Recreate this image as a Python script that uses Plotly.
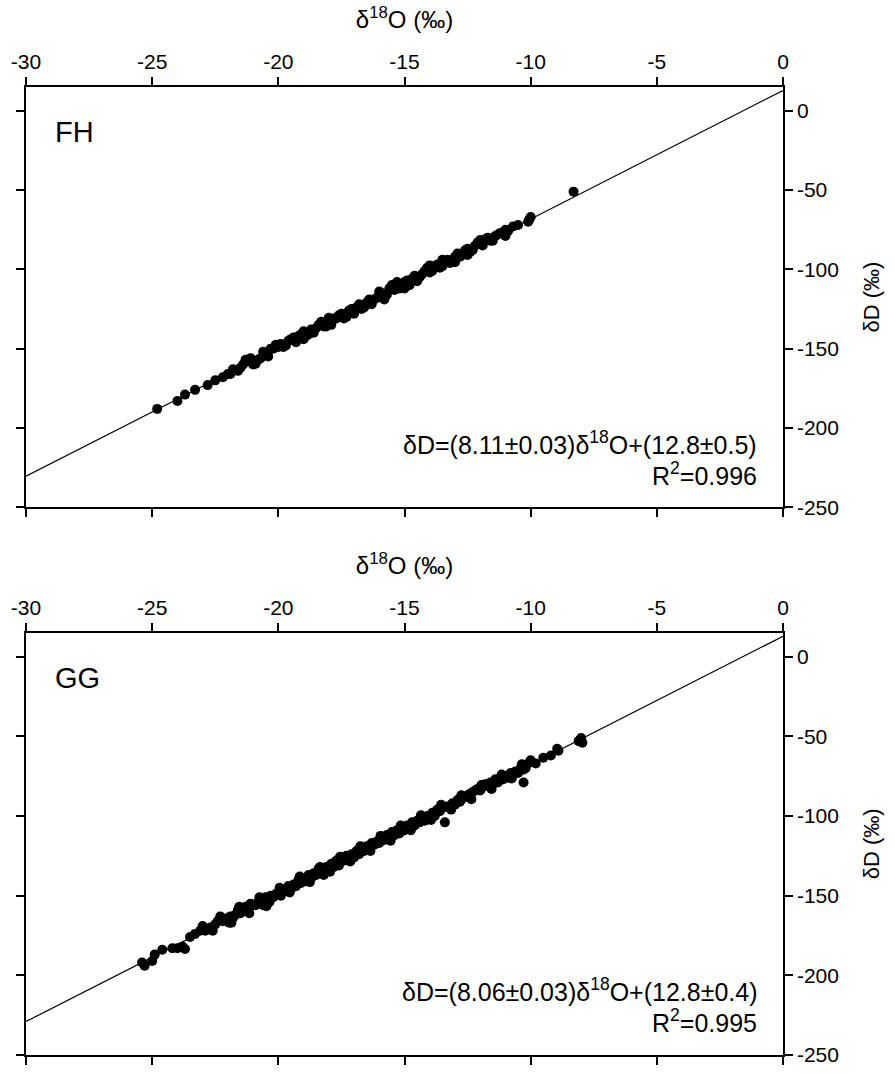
import plotly.graph_objects as go

# FH site: delta-18O vs delta-D (permil)
fh_d18o = [-24.8, -24.0, -23.7, -23.3, -22.8, -22.5, -22.2, -22.0, -21.8, -21.6,
           -21.4, -21.2, -21.0, -20.8, -20.6, -20.4, -20.2, -20.0, -19.8, -19.6,
           -19.4, -19.3, -19.1, -18.9, -18.7, -18.6, -18.4, -18.2, -18.0, -17.9,
           -17.7, -17.5, -17.3, -17.1, -17.0, -16.8, -16.6, -16.4, -16.3, -16.1,
           -15.9, -15.8, -15.6, -15.4, -15.3, -15.1, -14.9, -14.8, -14.6, -14.4,
           -14.2, -14.0, -13.8, -13.6, -13.4, -13.2, -13.0, -12.8, -12.6, -12.4,
           -12.2, -12.0, -11.8, -11.6, -11.4, -11.2, -11.0, -10.7, -10.1, -10.0,
           -10.05, -8.3,
           -21.9, -21.5, -21.1, -20.7, -20.5, -20.3, -19.9, -19.7, -19.5, -19.2,
           -19.0, -18.8, -18.5, -18.3, -18.1, -17.8, -17.6, -17.4, -17.2, -16.9,
           -16.7, -16.5, -16.2, -16.0, -15.7, -15.5, -15.2, -15.0, -14.7, -14.5,
           -14.3, -14.1, -13.9, -13.7, -13.5, -13.3, -13.1, -12.9, -12.7, -12.5,
           -12.3, -12.1, -11.9, -11.7, -11.5, -11.3, -10.9, -10.5,
           -21.3, -20.9, -20.1, -19.0, -18.0, -17.0, -16.0, -15.0, -14.0, -13.0,
           -12.0, -11.0, -15.5, -14.5, -13.5, -12.5]
fh_dd = [-188, -183, -179, -176, -173, -170, -168, -166, -163, -164,
         -160, -158, -160, -157, -152, -155, -150, -149, -149, -145,
         -143, -146, -141, -142, -138, -140, -135, -136, -132, -135,
         -131, -128, -130, -125, -127, -122, -124, -119, -122, -118,
         -115, -119, -112, -113, -108, -111, -107, -110, -104, -105,
         -101, -102, -98, -99, -95, -96, -92, -92, -88, -89,
         -85, -84, -81, -82, -79, -77, -75, -73, -70, -67,
         -68.5, -51,
         -166, -162, -156, -156, -153, -150, -147, -148, -144, -142,
         -139, -141, -137, -133, -136, -131, -129, -131, -126, -124,
         -125, -121, -119, -116, -116, -110, -112, -108, -106, -106,
         -103, -99, -101, -97, -98, -94, -95, -90, -91, -87,
         -88, -83, -85, -80, -82, -78, -76, -72,
         -157, -159.5, -147.5, -144, -130.5, -128, -114, -112, -97.5, -95.5,
         -81.5, -79, -110, -107.5, -94, -91]

# GG site: delta-18O vs delta-D (permil)
gg_d18o = [-25.4, -25.3, -25.0, -24.9, -24.6, -24.2, -24.0, -23.8, -23.7, -23.5,
           -23.3, -23.1, -22.9, -22.7, -22.5, -22.4, -22.2, -22.0, -21.9, -21.86,
           -21.8, -21.7, -21.6, -21.5, -21.4, -21.3, -21.2, -21.1, -21.0, -20.9,
           -20.8, -20.7, -20.6, -20.5, -20.47, -20.4, -20.3, -20.2, -20.1, -20.0,
           -19.9, -19.8, -19.7, -19.6, -19.5, -19.4, -19.3, -19.2, -19.1, -19.0,
           -18.9, -18.8, -18.7, -18.6, -18.5, -18.4, -18.3, -18.2, -18.1, -18.0,
           -17.9, -17.8, -17.7, -17.6, -17.5, -17.4, -17.3, -17.2, -17.1, -17.0,
           -16.9, -16.8, -16.7, -16.6, -16.5, -16.4, -16.3, -16.2, -16.1, -16.0,
           -15.9, -15.8, -15.7, -15.6, -15.5, -15.4, -15.3, -15.2, -15.1, -15.0,
           -14.9, -14.8, -14.7, -14.6, -14.5, -14.4, -14.3, -14.2, -14.1, -14.0,
           -13.9, -13.8, -13.7, -13.6, -13.5, -13.4, -13.3, -13.2, -13.1, -13.0,
           -12.9, -12.8, -12.7, -12.6, -12.5, -12.4, -12.3, -12.2, -12.1, -12.0,
           -11.9, -11.8, -11.7, -11.6, -11.5, -11.4, -11.3, -11.2, -11.1, -11.0,
           -10.9, -10.8, -10.7, -10.6, -10.5, -10.4, -10.3, -10.28, -10.2, -10.1,
           -9.8, -9.5, -9.2, -8.95, -8.9, -8.1, -8.0, -7.95,
           -23.0, -22.6, -22.3, -21.95, -21.55, -21.15, -20.75, -20.35, -19.95, -19.55,
           -19.15, -18.75, -18.35, -17.95, -17.55, -17.15, -16.75, -16.35, -15.95, -15.55,
           -15.15, -14.75, -14.35, -13.95, -13.55, -13.15, -12.75, -12.35, -11.95, -11.55,
           -11.15, -10.75, -10.35, -10.0]
gg_dd = [-192, -194, -191, -187, -184, -183, -183, -182, -183.5, -176,
         -174, -172, -172, -170, -168, -166, -166, -164, -163, -167,
         -164, -162, -159, -161, -159, -157, -158, -155, -156, -156,
         -154, -153, -156, -151, -156.7, -152, -150, -151, -149, -148,
         -150, -146, -147, -144, -146, -143, -144, -140, -142, -139,
         -141, -137, -139, -136, -137, -133, -135, -137, -132, -133,
         -130, -132, -128, -131, -127, -128, -125, -127, -124, -126,
         -122, -124, -120, -122, -119, -121, -117, -118, -116, -117,
         -113, -115, -112, -114, -110, -112, -109, -111, -107, -109,
         -106, -107, -104, -106, -103, -104, -101, -103, -100, -101,
         -98, -100, -96, -97, -95, -104, -94, -95, -92, -93,
         -90, -91, -89, -88, -87, -86, -85, -84, -83, -84,
         -82, -80, -81, -79, -80, -77, -79, -76, -77, -75,
         -76, -73, -74, -72, -73, -70, -71, -79, -70, -67,
         -67, -63.4, -62, -57.8, -59, -53, -51, -54,
         -169, -172, -163, -167, -157, -161, -151, -154, -145, -148,
         -138, -141.5, -132, -135, -125.5, -128.5, -119, -122, -112.5, -115.5,
         -106, -109, -99.5, -102.5, -93, -96, -87, -89.5, -80.5, -83,
         -74, -76.5, -67.5, -65]

# Least-squares fits: slope, intercept
fh_fit = (8.11, 12.8)
gg_fit = (8.06, 12.8)
fit_x = [-30, 0]

fh_eq = "δD=(8.11±0.03)δ<sup>18</sup>O+(12.8±0.5)"
fh_r2 = "R<sup>2</sup>=0.996"
gg_eq = "δD=(8.06±0.03)δ<sup>18</sup>O+(12.8±0.4)"
gg_r2 = "R<sup>2</sup>=0.995"

x_ticks = [-30, -25, -20, -15, -10, -5, 0]
x_ticklabels = ["-30", "-25", "-20", "-15", "-10", "-5", "0"]
y_ticks = [0, -50, -100, -150, -200, -250]
y_ticklabels = ["0", "-50", "-100", "-150", "-200", "-250"]

FONT = "Liberation Sans, Arial, sans-serif"

fig = go.Figure()

panels = [
    ("FH", fh_d18o, fh_dd, fh_fit, "x", "y"),
    ("GG", gg_d18o, gg_dd, gg_fit, "x2", "y2"),
]

for name, xs, ys, (slope, icpt), xa, ya in panels:
    fig.add_trace(go.Scatter(
        x=fit_x, y=[slope * v + icpt for v in fit_x], mode="lines",
        line=dict(color="black", width=1.2), xaxis=xa, yaxis=ya,
        showlegend=False, hoverinfo="skip"))
    fig.add_trace(go.Scatter(
        x=xs, y=ys, mode="markers", name=name,
        marker=dict(color="black", size=10, line=dict(width=0)),
        xaxis=xa, yaxis=ya, showlegend=False))

axis_common = dict(
    showgrid=False, zeroline=False, showline=True, linecolor="black",
    linewidth=1.5, ticks="outside", ticklen=8, tickwidth=1.5,
    tickcolor="black", mirror="ticks",
    tickfont=dict(family=FONT, size=21, color="black"),
)

xtitle = dict(text="δ<sup>18</sup>O (‰)", font=dict(family=FONT, size=24, color="black"), standoff=14)
ytitle = dict(text="δD (‰)", font=dict(family=FONT, size=22, color="black"), standoff=26)

top_dom = [0.5659, 1.0]
bot_dom = [0.0, 0.4362]

fig.update_layout(
    width=895, height=1074,
    margin=dict(l=26, r=112, t=87, b=8),
    paper_bgcolor="white", plot_bgcolor="white",
    xaxis=dict(axis_common, range=[-30, 0], tickvals=x_ticks, ticktext=x_ticklabels,
               side="top", anchor="y", title=xtitle),
    yaxis=dict(axis_common, range=[-250, 15], tickvals=y_ticks, ticktext=y_ticklabels,
               side="right", anchor="x", domain=top_dom, title=ytitle),
    xaxis2=dict(axis_common, range=[-30, 0], tickvals=x_ticks, ticktext=x_ticklabels,
                side="top", anchor="y2", title=xtitle),
    yaxis2=dict(axis_common, range=[-250, 15], tickvals=y_ticks, ticktext=y_ticklabels,
                side="right", anchor="x2", domain=bot_dom, title=ytitle),
)

annotations = []
for name, eq, r2, xr, yr in [("FH", fh_eq, fh_r2, "x domain", "y domain"),
                             ("GG", gg_eq, gg_r2, "x2 domain", "y2 domain")]:
    annotations.append(dict(
        text=name, xref=xr, yref=yr, x=0.036, y=0.892, xanchor="left", yanchor="middle",
        showarrow=False, font=dict(family=FONT, size=29, color="black")))
    annotations.append(dict(
        text=eq, xref=xr, yref=yr, x=0.968, y=0.153, xanchor="right", yanchor="middle",
        showarrow=False, font=dict(family=FONT, size=25, color="black")))
    annotations.append(dict(
        text=r2, xref=xr, yref=yr, x=0.968, y=0.080, xanchor="right", yanchor="middle",
        showarrow=False, font=dict(family=FONT, size=25, color="black")))
fig.update_layout(annotations=annotations)

fig.write_html("out.html")
